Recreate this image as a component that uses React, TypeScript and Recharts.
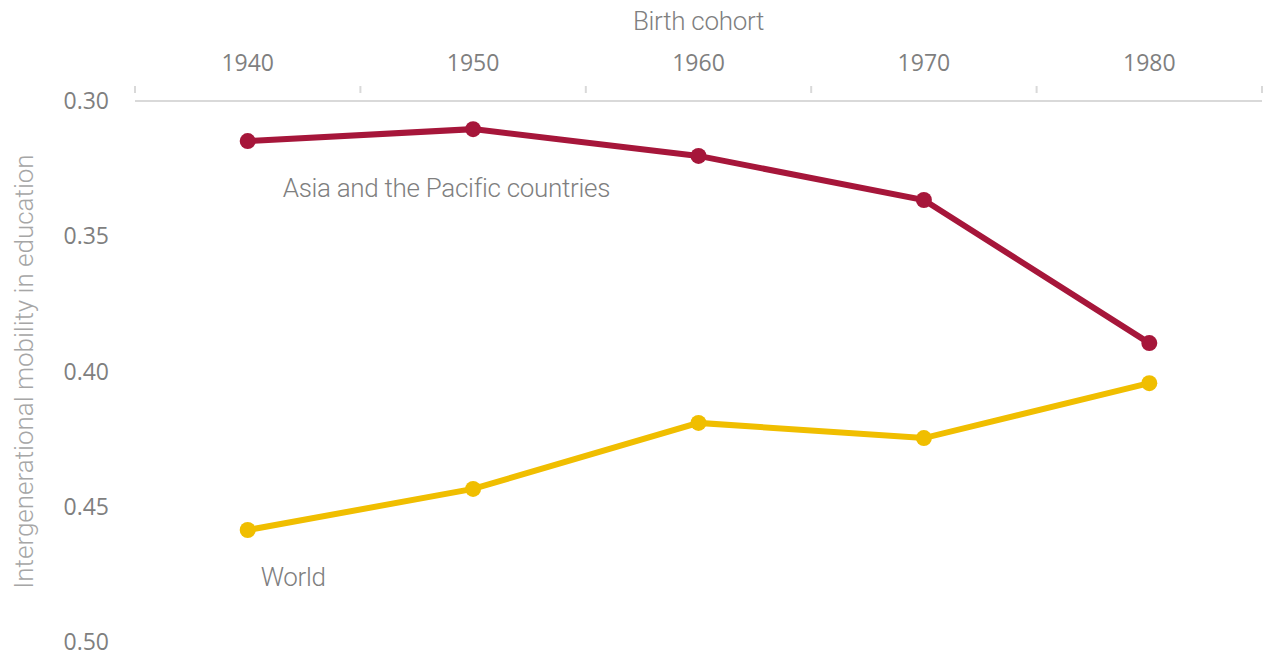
import React from 'react';
import { LineChart, Line, XAxis, YAxis, LabelList } from 'recharts';

const years = [1940, 1950, 1960, 1970, 1980];
const asiaPacific = [0.3148, 0.3104, 0.3203, 0.3366, 0.3895];
const world = [0.4586, 0.4434, 0.419, 0.4246, 0.4043];
const yTicks = [0.3, 0.35, 0.4, 0.45, 0.5];
const xTicks = [1935, 1940, 1945, 1950, 1955, 1960, 1965, 1970, 1975, 1980, 1985];
const seriesNames = { asia: 'Asia and the Pacific countries', world: 'World' };

const data = years.map((y, i) => ({ year: y, asia: asiaPacific[i], world: world[i] }));

const TICK_FONT = '"Open Sans", sans-serif';
const LABEL_FONT = 'Roboto, sans-serif';

const XTick = (props: any) => {
  const { x, y, payload } = props;
  const v = payload.value;
  if (v % 10 === 0) {
    return (
      <text x={x} y={y - 31} textAnchor="middle" dominantBaseline="central" fontFamily={TICK_FONT} fontSize={23} fill="#7f7f7f">
        {v}
      </text>
    );
  }
  return <line x1={x} x2={x} y1={y} y2={y - 7} stroke="#d9d9d9" strokeWidth={2} />;
};

const makeSeriesLabel = (name: string) => (props: any) => {
  const { x, y, index } = props;
  if (index !== 0) return null;
  const dx = name === seriesNames.world ? 13 : 35;
  return (
    <text x={x + dx} y={y + 47} dominantBaseline="central" fontFamily={LABEL_FONT} fontWeight={300} fontSize={26} letterSpacing={-0.3} fill="#7f7f7f">
      {name}
    </text>
  );
};

export default function App() {
  return (
    <div style={{ position: 'absolute', left: 0, top: 0, background: '#fff' }}>
      <LineChart width={1266} height={657} data={data} margin={{ top: 0, right: 4, bottom: 15, left: 0 }}>
        <XAxis
          dataKey="year"
          type="number"
          orientation="top"
          domain={[1935, 1985]}
          ticks={xTicks}
          interval={0}
          height={101}
          tickLine={false}
          axisLine={{ stroke: '#d9d9d9', strokeWidth: 2 }}
          tick={<XTick />}
          label={(p: any) => {
            const vb = p.viewBox;
            return (
              <text x={vb.x + vb.width / 2} y={21} textAnchor="middle" dominantBaseline="central" fontFamily={LABEL_FONT} fontWeight={300} fontSize={26} letterSpacing={-0.3} fill="#7f7f7f">
                Birth cohort
              </text>
            );
          }}
        />
        <YAxis
          type="number"
          domain={[0.3, 0.5]}
          ticks={yTicks}
          reversed
          width={135}
          axisLine={false}
          tickLine={false}
          tickSize={0}
          tickMargin={26}
          tickFormatter={(v: number) => v.toFixed(2)}
          tick={{ fontFamily: TICK_FONT, fontSize: 23, fill: '#7f7f7f' }}
          label={(p: any) => {
            const vb = p.viewBox;
            const cy = vb.y + vb.height / 2;
            return (
              <text x={24} y={cy} transform={`rotate(-90, 24, ${cy})`} textAnchor="middle" dominantBaseline="central" fontFamily={LABEL_FONT} fontWeight={300} fontSize={26} fill="#a6a6a6">
                Intergenerational mobility in education
              </text>
            );
          }}
        />
        <Line dataKey="asia" stroke="#A6163A" strokeWidth={6} dot={{ r: 8, fill: '#A6163A', stroke: 'none' }} isAnimationActive={false}>
          <LabelList dataKey="asia" content={makeSeriesLabel(seriesNames.asia)} />
        </Line>
        <Line dataKey="world" stroke="#F0BE00" strokeWidth={6} dot={{ r: 8, fill: '#F0BE00', stroke: 'none' }} isAnimationActive={false}>
          <LabelList dataKey="world" content={makeSeriesLabel(seriesNames.world)} />
        </Line>
      </LineChart>
    </div>
  );
}
